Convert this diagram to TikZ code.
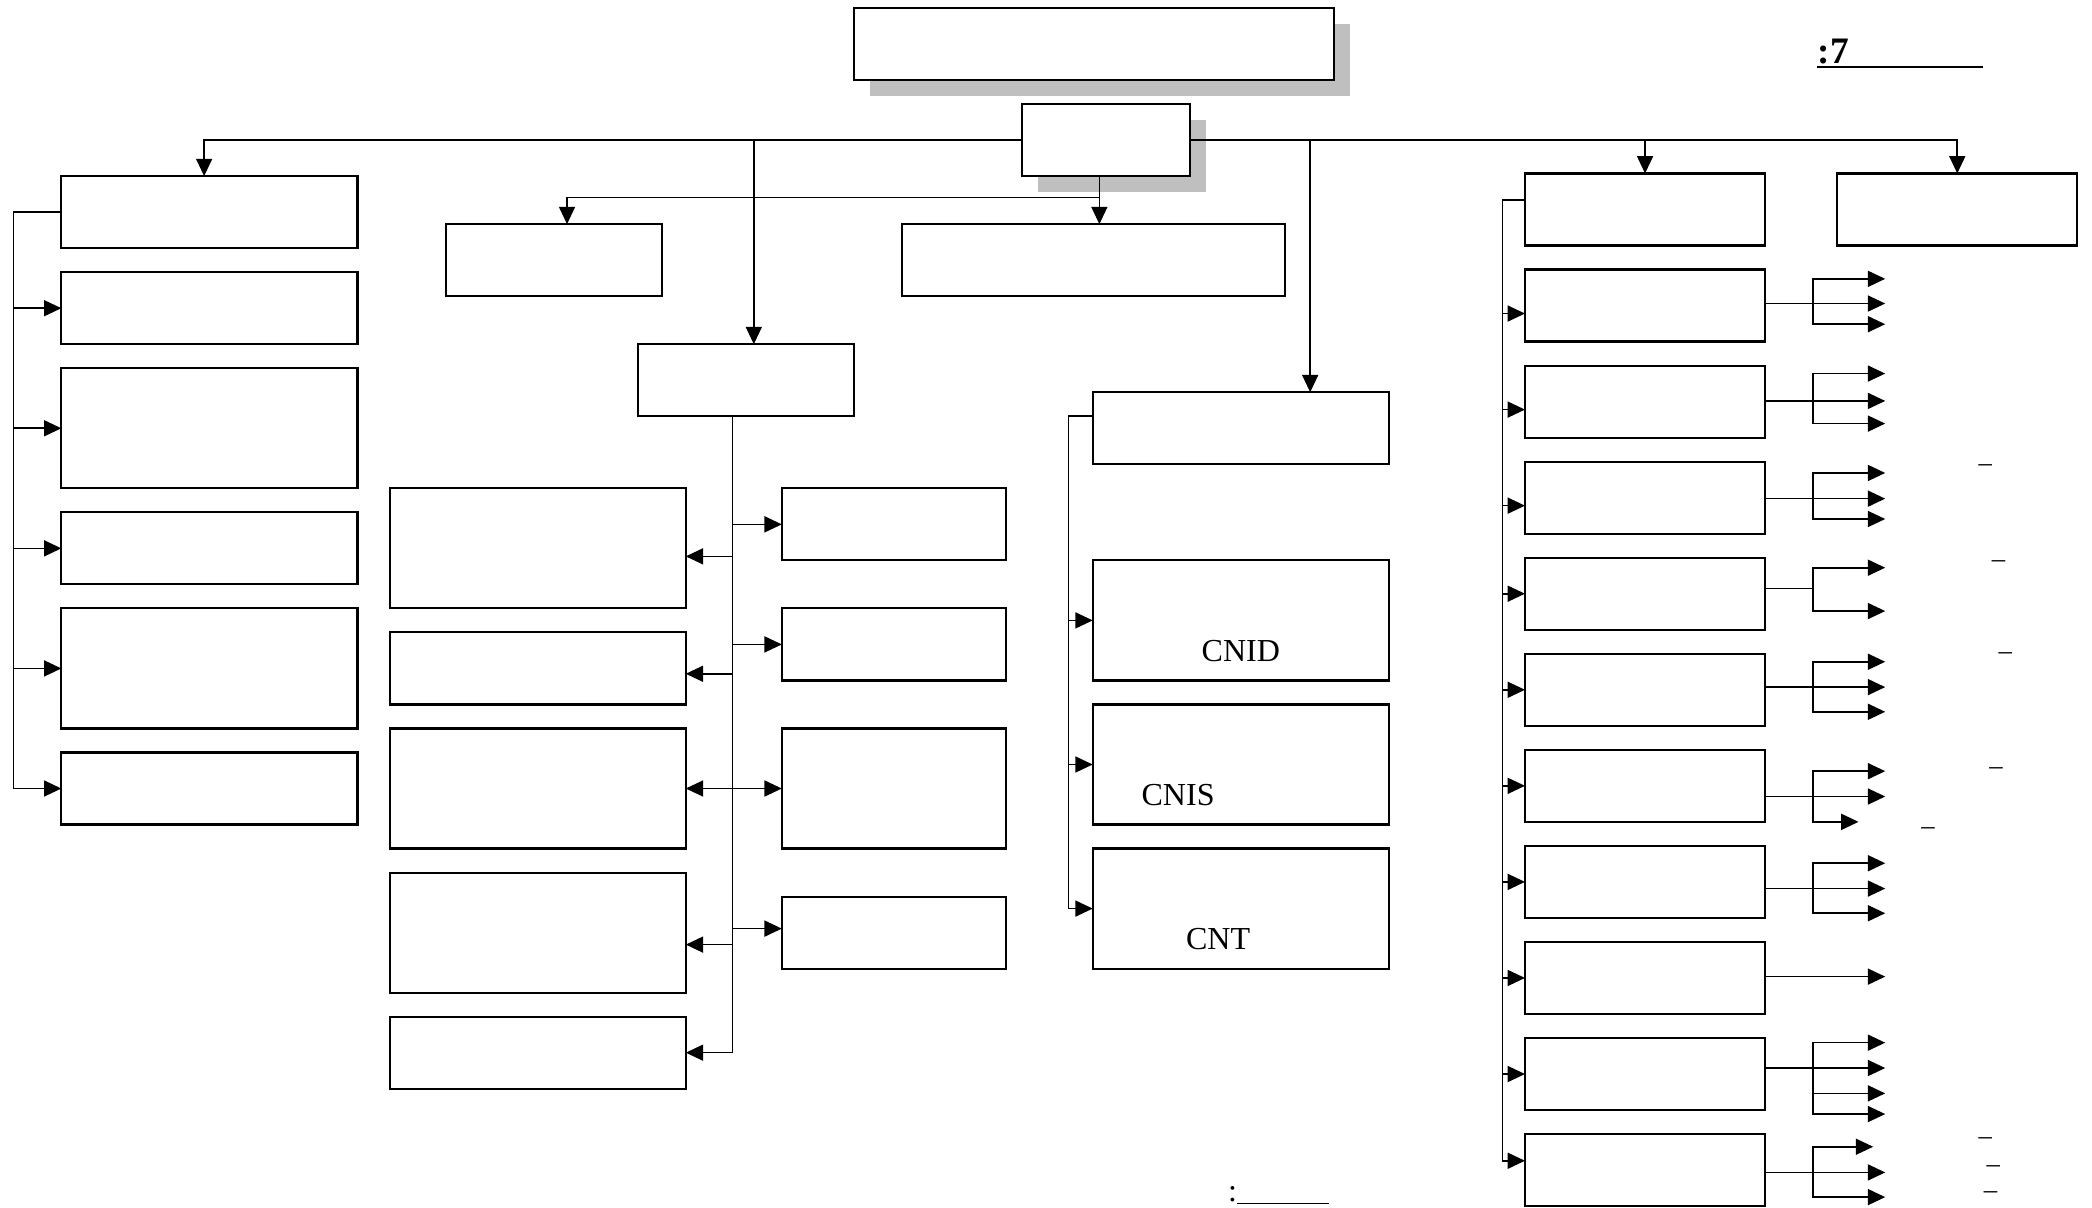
\documentclass[tikz,border=0pt]{standalone}
\usepackage{fontspec}
\setmainfont{Liberation Serif}
\usetikzlibrary{arrows.meta,positioning,calc,shadows}
\tikzset{
  mybox/.style = {rectangle, draw, fill=white, line width=0.8pt, outer sep=0pt, minimum width=111pt, minimum height=27pt},
  mytall/.style = {mybox, minimum height=45pt},
  myshadow/.style = {drop shadow={shadow xshift=6pt, shadow yshift=-6pt, fill=gray!50, opacity=1}},
  mythin/.style = {line width=0.6pt},
  myarrow/.style = {-{Triangle[length=6.5pt,width=6pt]}, line width=0.6pt},
  mylabel/.style = {inner sep=0pt, font=\fontsize{12}{14}\selectfont},
  mydash/.style = {inner sep=0pt, font=\fontsize{10}{12}\selectfont},
}

\begin{document}
\begin{tikzpicture}[x=0.5pt, y=-0.5pt, node distance=9pt]
\useasboundingbox (0,0) rectangle (1568,905);

% top
\node (title) [mybox, myshadow, minimum width=180pt] at (820,33) {};
\node (dept) [mybox, myshadow, minimum width=63pt] at (829,105) {};
\node (fignum) [anchor=base west, inner sep=0pt, font=\fontsize{14}{16}\selectfont\bfseries] at (1362,47.5) {:7};
\draw[line width=0.8pt] ([yshift=-1.5pt]fignum.base west) -- ++(124.5,0);

% left column
\node (L1) [mybox] at (157,159) {};
\node (L2) [mybox, below=of L1] {};
\node (L3) [mytall, below=of L2] {};
\node (L4) [mybox, below=of L3] {};
\node (L5) [mytall, below=of L4] {};
\node (L6) [mybox, below=of L5] {};

% under the department
\node (ps1) [mybox, minimum width=81pt] at (415,195) {};
\node (ps2) [mybox, minimum width=143.5pt] at (819.5,195) {};

% middle group
\node (mhead) [mybox, minimum width=81pt] at (559,285) {};
\node (ml1) [mytall] at (403,411) {};
\node (ml2) [mybox, below=of ml1] {};
\node (ml3) [mytall, below=of ml2] {};
\node (ml4) [mytall, below=of ml3] {};
\node (ml5) [mybox, below=of ml4] {};
\node (mr1) [mybox, minimum width=84pt] at (670,393) {};
\node (mr2) [mybox, minimum width=84pt, below=18pt of mr1] {};
\node (mr3) [mytall, minimum width=84pt, below=18pt of mr2] {};
\node (mr4) [mybox, minimum width=84pt, below=18pt of mr3] {};

% C group
\node (chead) [mybox] at (930,321) {};
\node (c1) [mytall, below=36pt of chead] {};
\node (c2) [mytall, below=of c1] {};
\node (c3) [mytall, below=of c2] {};
\node[mylabel] (cnid) at ([yshift=-11.5pt]c1.center) {CNID};
\node[mylabel] (cnis) at ([xshift=-23.5pt,yshift=-11.5pt]c2.center) {CNIS};
\node[mylabel] (cnt) at ([xshift=-8.5pt,yshift=-11.5pt]c3.center) {CNT};

% right column
\node (r1) [mybox, minimum width=90pt] at (1233,157) {};
\foreach \i [remember=\i as \j (initially 1)] in {2,...,11}
  \node (r\i) [mybox, minimum width=90pt, below=of r\j] {};
\node (rx) [mybox, minimum width=90pt] at (1467,157) {};

\foreach \x/\y [count=\i] in {1488/351,1498/423,1503/492,1496/578,1445/623,1488/855,1494/876,1492/896}
  \node[mydash] (dash\i) at (\x,\y) {\textendash};

\node (srcnote) [anchor=base west, inner sep=0pt, font=\fontsize{12}{14}\selectfont] at (920,900.5) {:};
\draw[line width=0.7pt] ([yshift=-0.75pt]srcnote.base east) -- ++(69,0);

% main line
\draw[myarrow] (dept.west) -| ([xshift=-2pt]L1.north);
\draw[myarrow] (dept.east) -| (rx.north);
\draw[myarrow] (dept.east -| r1.north) -- (r1.north);
\coordinate (mtop) at ([xshift=3pt]mhead.north);
\draw[myarrow] (dept.west -| mtop) -- (mtop);
\coordinate (ctop) at ([xshift=26pt]chead.north);
\draw[myarrow] (dept.east -| ctop) -- (ctop);

% under the department
\coordinate (dbot) at ([xshift=-2.5pt]dept.south);
\draw[myarrow] (dbot) -- (dbot |- ps2.north);
\coordinate (dj) at ($(dbot)+(0,16)$);
\draw[myarrow] (dj) -| ([xshift=5pt]ps1.north);

% left bus
\coordinate (lbus) at (10,0);
\draw[mythin] (L1.west) -- (L1.west -| lbus) -- (L6.west -| lbus);
\foreach \b in {L2,L3,L4,L5,L6}
  \draw[myarrow] (\b.west -| lbus) -- (\b.west);

% middle bus
\coordinate (mbus) at (549,0);
\draw[mythin] (mhead.south -| mbus) -- (ml5.east -| mbus);
\foreach \b/\s in {ml1/-3,ml2/-2,ml3/0,ml4/-4.5,ml5/0}{
  \coordinate (t) at ([yshift=\s pt]\b.east);
  \draw[myarrow] (t -| mbus) -- (t);
}
\foreach \b/\s in {mr1/0,mr2/0,mr3/0,mr4/1.5}{
  \coordinate (t) at ([yshift=\s pt]\b.west);
  \draw[myarrow] (t -| mbus) -- (t);
}

% C bus
\coordinate (cbus) at (801,0);
\coordinate (cout) at ([yshift=4.5pt]chead.west);
\draw[mythin] (cout) -- (cout -| cbus) -- (c3.west -| cbus);
\foreach \b in {c1,c2,c3}
  \draw[myarrow] (\b.west -| cbus) -- (\b.west);

% right bus
\coordinate (rbus) at (1126,0);
\coordinate (rout) at ([yshift=3.5pt]r1.west);
\coordinate (rend) at ([yshift=3.5pt]r11.west);
\draw[mythin] (rout) -- (rout -| rbus) -- (rend -| rbus);
\foreach \b/\s in {r2/-3,r3/-3,r4/-3,r5/0,r6/0,r7/0,r8/0,r9/0,r10/0,r11/3.5}{
  \coordinate (t) at ([yshift=\s pt]\b.west);
  \draw[myarrow] (t -| rbus) -- (t);
}

% fan-outs on the right
\foreach \b/\o/\ys in {r2/25.5/{7/90,25.5/90,41/90}, r3/26.5/{6/90,26.5/90,43.5/90},
    r4/27.75/{8.5/90,27.75/90,43/90}, r5/23/{7.5/90,40/90}, r6/25/{6/90,25/90,43.5/90},
    r7/35/{16/90,35/90,54/70}, r8/32/{13/90,32/90,50.5/90}, r9/26/{26/90},
    r10/22.5/{3.5/90,22.5/90,41.5/90,57/90}, r11/28.75/{9.5/81,28.75/90,47.25/90}}{
  \draw[mythin] ($(\b.north east)+(0,\o)$) -- ++(36,0);
  \foreach \y/\t in \ys
    \draw[myarrow] ($(\b.north east)+(36,\o)$) |- ($(\b.north east)+(\t,\y)$);
}
\end{tikzpicture}
\end{document}
